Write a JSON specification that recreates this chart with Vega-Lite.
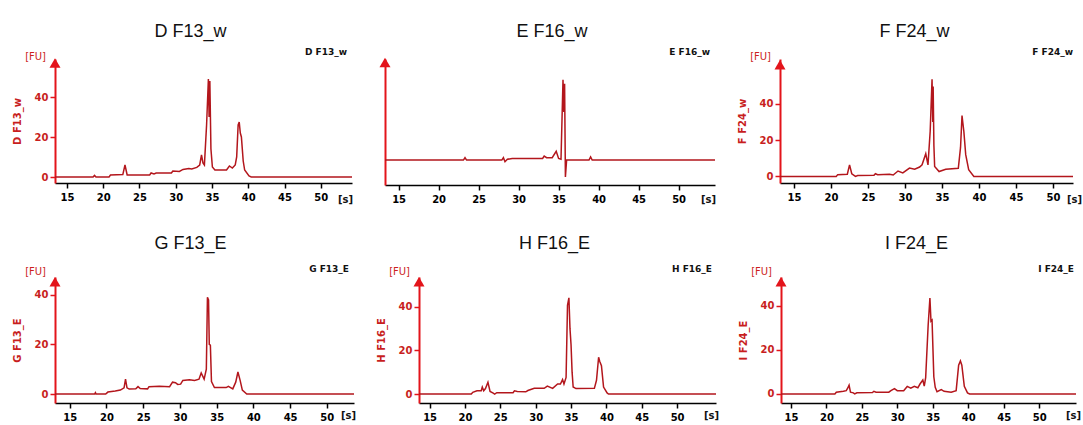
{
  "$schema": "https://vega.github.io/schema/vega-lite/v6.json",
  "padding": {"left": 12, "top": 23, "right": 0, "bottom": 0},
  "config": {
    "view": {"stroke": null},
    "font": "Liberation Sans",
    "title": {"fontSize": 18, "fontWeight": "normal", "color": "#111111", "anchor": "middle", "font": "Liberation Sans"},
    "axisX": {"domainColor": "#000000", "domainWidth": 1.5, "tickColor": "#000000", "tickWidth": 1.5, "tickSize": 5, "labelFont": "DejaVu Sans", "labelFontWeight": "bold", "labelFontSize": 10, "labelColor": "#000000", "labelPadding": 4, "grid": false, "labelFlush": false, "title": null},
    "axisY": {"domainColor": "#e3141b", "domainWidth": 2, "tickColor": "#e3141b", "tickWidth": 1.5, "tickSize": 5, "labelFont": "DejaVu Sans", "labelFontWeight": "bold", "labelFontSize": 10, "labelColor": "#c81e1e", "labelPadding": 2, "grid": false, "titleColor": "#c81e1e", "titleFont": "DejaVu Sans", "titleFontSize": 10, "titleFontWeight": "bold", "titlePadding": 12}
  },
  "datasets": {
    "D": [{"t":13.35,"fu":0},{"t":18.6,"fu":0},{"t":18.8,"fu":0.8},{"t":19,"fu":0},{"t":20.8,"fu":0},{"t":21,"fu":1},{"t":22.7,"fu":1.2},{"t":23.0,"fu":6},{"t":23.3,"fu":1},{"t":26.4,"fu":1},{"t":26.6,"fu":2},{"t":27,"fu":1.5},{"t":27.3,"fu":2},{"t":29.4,"fu":2},{"t":29.6,"fu":3},{"t":30.5,"fu":2.8},{"t":31,"fu":3.8},{"t":31.8,"fu":4.2},{"t":32.2,"fu":4},{"t":32.9,"fu":4.8},{"t":33.3,"fu":6},{"t":33.55,"fu":11},{"t":33.75,"fu":7},{"t":33.95,"fu":6},{"t":34.25,"fu":26},{"t":34.5,"fu":49},{"t":34.6,"fu":30},{"t":34.7,"fu":48},{"t":34.85,"fu":14},{"t":35.05,"fu":5},{"t":35.4,"fu":3.5},{"t":37,"fu":3.5},{"t":37.4,"fu":5.5},{"t":37.8,"fu":4.5},{"t":38.2,"fu":6},{"t":38.4,"fu":10},{"t":38.6,"fu":26},{"t":38.75,"fu":27.5},{"t":38.9,"fu":22},{"t":39.05,"fu":20},{"t":39.3,"fu":8},{"t":39.5,"fu":3.5},{"t":40.1,"fu":0.5},{"t":40.4,"fu":0},{"t":54.3,"fu":0}],
    "E": [{"t":13.3,"fu":0},{"t":23.1,"fu":0},{"t":23.3,"fu":0.3},{"t":23.5,"fu":0},{"t":27.9,"fu":0},{"t":28.1,"fu":0.3},{"t":28.3,"fu":-0.2},{"t":28.6,"fu":0.1},{"t":29.2,"fu":0.2},{"t":33,"fu":0.2},{"t":33.2,"fu":0.5},{"t":33.5,"fu":0.3},{"t":34.2,"fu":0.3},{"t":34.7,"fu":1.1},{"t":35.0,"fu":0.2},{"t":35.3,"fu":0.1},{"t":35.55,"fu":10},{"t":35.65,"fu":6},{"t":35.75,"fu":9.5},{"t":35.85,"fu":-2.1},{"t":36.0,"fu":0},{"t":38.8,"fu":0},{"t":39.0,"fu":0.4},{"t":39.2,"fu":0},{"t":54.55,"fu":0}],
    "F": [{"t":13.1,"fu":0},{"t":20.7,"fu":0},{"t":20.9,"fu":1},{"t":22.2,"fu":1.2},{"t":22.5,"fu":6.4},{"t":22.8,"fu":1.5},{"t":23.3,"fu":0},{"t":23.6,"fu":0.5},{"t":25.8,"fu":0.6},{"t":26,"fu":1.5},{"t":26.3,"fu":1},{"t":27.9,"fu":1.2},{"t":28.4,"fu":0.8},{"t":29.05,"fu":3},{"t":29.7,"fu":2},{"t":30.6,"fu":4.6},{"t":31.3,"fu":4},{"t":31.97,"fu":5.2},{"t":32.3,"fu":6.4},{"t":32.8,"fu":12.5},{"t":33.1,"fu":6.4},{"t":33.4,"fu":25},{"t":33.65,"fu":53.5},{"t":33.75,"fu":30},{"t":33.8,"fu":49.5},{"t":33.9,"fu":17},{"t":34.0,"fu":5.5},{"t":34.6,"fu":2.7},{"t":35.5,"fu":4},{"t":37.2,"fu":4.5},{"t":37.5,"fu":16},{"t":37.7,"fu":33.5},{"t":37.8,"fu":30},{"t":37.95,"fu":24.7},{"t":38.2,"fu":12},{"t":38.6,"fu":3.7},{"t":39.3,"fu":0},{"t":52.7,"fu":0}],
    "G": [{"t":13.0,"fu":0},{"t":18.4,"fu":0},{"t":18.5,"fu":0.6},{"t":18.6,"fu":0},{"t":19.9,"fu":0},{"t":20.2,"fu":0.8},{"t":21.2,"fu":1.2},{"t":21.9,"fu":1.6},{"t":22.4,"fu":2.5},{"t":22.6,"fu":6},{"t":22.8,"fu":2.5},{"t":23.1,"fu":2},{"t":24.0,"fu":2.1},{"t":24.3,"fu":3},{"t":24.6,"fu":2.2},{"t":25.6,"fu":2.1},{"t":25.8,"fu":3},{"t":27.2,"fu":3.2},{"t":28.6,"fu":3},{"t":29.0,"fu":4.8},{"t":29.4,"fu":4.6},{"t":29.7,"fu":3.9},{"t":30.1,"fu":4},{"t":30.4,"fu":5.5},{"t":31.3,"fu":5.8},{"t":32.0,"fu":5.5},{"t":32.6,"fu":6},{"t":32.9,"fu":8.5},{"t":33.3,"fu":6},{"t":33.6,"fu":10},{"t":33.75,"fu":39},{"t":33.9,"fu":38},{"t":34.0,"fu":20},{"t":34.15,"fu":19.7},{"t":34.3,"fu":5},{"t":34.7,"fu":2.6},{"t":36.3,"fu":2.6},{"t":36.6,"fu":3.1},{"t":37.2,"fu":2.1},{"t":37.6,"fu":4.8},{"t":37.9,"fu":8.9},{"t":38.2,"fu":5.5},{"t":38.5,"fu":1.6},{"t":39.1,"fu":0},{"t":53.7,"fu":0}],
    "H": [{"t":13.5,"fu":0},{"t":20.9,"fu":0},{"t":21.1,"fu":0.8},{"t":21.7,"fu":1.5},{"t":22.3,"fu":1.5},{"t":22.45,"fu":3.2},{"t":22.65,"fu":1.5},{"t":22.9,"fu":2.5},{"t":23.25,"fu":5.4},{"t":23.55,"fu":1.2},{"t":24.0,"fu":0.4},{"t":24.2,"fu":0},{"t":24.5,"fu":0.6},{"t":26.8,"fu":0.6},{"t":27.0,"fu":1.5},{"t":27.4,"fu":1.2},{"t":28.6,"fu":1},{"t":28.9,"fu":1.6},{"t":29.8,"fu":2.6},{"t":31.2,"fu":2.6},{"t":31.65,"fu":3.6},{"t":32.4,"fu":2.6},{"t":33.1,"fu":4.6},{"t":33.5,"fu":4.6},{"t":33.8,"fu":6.6},{"t":34.0,"fu":4.6},{"t":34.3,"fu":7.6},{"t":34.5,"fu":40.5},{"t":34.7,"fu":44},{"t":34.85,"fu":30},{"t":35.0,"fu":22.6},{"t":35.15,"fu":10},{"t":35.3,"fu":3.2},{"t":35.7,"fu":2.5},{"t":38.3,"fu":2.6},{"t":38.6,"fu":6.3},{"t":38.9,"fu":16.8},{"t":39.05,"fu":15},{"t":39.3,"fu":13},{"t":39.6,"fu":3.2},{"t":40.1,"fu":0.5},{"t":40.3,"fu":0},{"t":55.5,"fu":0}],
    "I": [{"t":13.6,"fu":0},{"t":21.2,"fu":0},{"t":21.4,"fu":0.8},{"t":22.4,"fu":1.2},{"t":22.8,"fu":1.5},{"t":23.0,"fu":2.6},{"t":23.2,"fu":4},{"t":23.4,"fu":0.8},{"t":23.8,"fu":0.5},{"t":24.0,"fu":0},{"t":24.3,"fu":0.5},{"t":26.5,"fu":0.6},{"t":26.7,"fu":1.2},{"t":27.0,"fu":0.8},{"t":28.8,"fu":0.8},{"t":29.1,"fu":1.5},{"t":29.6,"fu":2.4},{"t":30.0,"fu":1.5},{"t":30.9,"fu":1.5},{"t":31.4,"fu":3.4},{"t":31.9,"fu":2.6},{"t":32.4,"fu":3.5},{"t":32.9,"fu":2.8},{"t":33.2,"fu":4.5},{"t":33.6,"fu":6.3},{"t":33.8,"fu":3.6},{"t":34.0,"fu":7.4},{"t":34.35,"fu":31},{"t":34.6,"fu":43.5},{"t":34.75,"fu":33},{"t":34.9,"fu":33.5},{"t":35.15,"fu":7.8},{"t":35.35,"fu":3},{"t":35.6,"fu":1},{"t":36.2,"fu":2},{"t":36.6,"fu":1.2},{"t":37.6,"fu":0.8},{"t":38.3,"fu":1.5},{"t":38.65,"fu":13},{"t":38.9,"fu":15},{"t":39.1,"fu":13},{"t":39.45,"fu":3.5},{"t":39.9,"fu":0.5},{"t":40.2,"fu":0},{"t":55.2,"fu":0}]
  },
  "spacing": 30,
  "vconcat": [
    {
      "spacing": 19,
      "hconcat": [
        {
          "width": 297, "height": 124,
          "title": {"text": "D F13_w", "dx": -13, "offset": 7},
          "layer": [
            {"data": {"name": "D"}, "mark": {"type": "line", "color": "#b3161c", "strokeWidth": 1.5},
             "encoding": {
               "x": {"field": "t", "type": "quantitative", "scale": {"domain": [13.35, 54.3], "nice": false, "zero": false}, "axis": {"values": [15,20,25,30,35,40,45,50]}},
               "y": {"field": "fu", "type": "quantitative", "scale": {"domain": [-3, 59], "nice": false, "zero": false}, "axis": {"values": [0,20,40], "title": "D F13_w"}}}},
            {"data": {"values": [{}]}, "mark": {"type": "point", "shape": "triangle-up", "filled": true, "size": 121, "color": "#e3141b", "opacity": 1},
             "encoding": {"x": {"datum": 13.35}, "y": {"datum": 57}}},
            {"data": {"values": [{}]}, "mark": {"type": "text", "text": "[FU]", "align": "right", "baseline": "middle", "dx": -9, "dy": -2, "color": "#cc1f1f", "fontSize": 10, "font": "DejaVu Sans"},
             "encoding": {"x": {"datum": 13.35}, "y": {"datum": 59}}},
            {"data": {"values": [{}]}, "mark": {"type": "text", "text": "D F13_w", "align": "right", "baseline": "middle", "dx": -5, "dy": -7, "fontSize": 9, "fontWeight": "bold", "font": "DejaVu Sans", "color": "#111111"},
             "encoding": {"x": {"datum": 54.3}, "y": {"datum": 59}}},
            {"data": {"values": [{}]}, "mark": {"type": "text", "text": "[s]", "align": "right", "baseline": "middle", "dx": 1, "dy": 17, "fontSize": 10, "fontWeight": "bold", "font": "DejaVu Sans", "color": "#111111"},
             "encoding": {"x": {"datum": 54.3}, "y": {"datum": -3}}}
          ]
        },
        {
          "width": 330, "height": 126,
          "title": {"text": "E F16_w", "dx": 2, "offset": 7},
          "layer": [
            {"data": {"name": "E"}, "mark": {"type": "line", "color": "#b3161c", "strokeWidth": 1.5},
             "encoding": {
               "x": {"field": "t", "type": "quantitative", "scale": {"domain": [13.3, 54.55], "nice": false, "zero": false}, "axis": {"values": [15,20,25,30,35,40,45,50]}},
               "y": {"field": "fu", "type": "quantitative", "scale": {"domain": [-3.1, 12.6], "nice": false, "zero": false}, "axis": {"values": [0], "labels": false, "tickOpacity": 0, "tickSize": 11, "title": null}}}},
            {"data": {"values": [{}]}, "mark": {"type": "point", "shape": "triangle-up", "filled": true, "size": 121, "color": "#e3141b", "opacity": 1},
             "encoding": {"x": {"datum": 13.3}, "y": {"datum": 12.15}}},
            {"data": {"values": [{}]}, "mark": {"type": "text", "text": "E F16_w", "align": "right", "baseline": "middle", "dx": -5, "dy": -7, "fontSize": 9, "fontWeight": "bold", "font": "DejaVu Sans", "color": "#111111"},
             "encoding": {"x": {"datum": 54.55}, "y": {"datum": 12.6}}},
            {"data": {"values": [{}]}, "mark": {"type": "text", "text": "[s]", "align": "right", "baseline": "middle", "dx": 1, "dy": 15, "fontSize": 10, "fontWeight": "bold", "font": "DejaVu Sans", "color": "#111111"},
             "encoding": {"x": {"datum": 54.55}, "y": {"datum": -3.1}}}
          ]
        },
        {
          "width": 293, "height": 124,
          "title": {"text": "F F24_w", "dx": -12, "offset": 7},
          "layer": [
            {"data": {"name": "F"}, "mark": {"type": "line", "color": "#b3161c", "strokeWidth": 1.5},
             "encoding": {
               "x": {"field": "t", "type": "quantitative", "scale": {"domain": [13.1, 52.7], "nice": false, "zero": false}, "axis": {"values": [15,20,25,30,35,40,45,50]}},
               "y": {"field": "fu", "type": "quantitative", "scale": {"domain": [-3.6, 64.7], "nice": false, "zero": false}, "axis": {"values": [0,20,40], "title": "F F24_w"}}}},
            {"data": {"values": [{}]}, "mark": {"type": "point", "shape": "triangle-up", "filled": true, "size": 121, "color": "#e3141b", "opacity": 1},
             "encoding": {"x": {"datum": 13.1}, "y": {"datum": 61.5}}},
            {"data": {"values": [{}]}, "mark": {"type": "text", "text": "[FU]", "align": "right", "baseline": "middle", "dx": -9, "dy": -2, "color": "#cc1f1f", "fontSize": 10, "font": "DejaVu Sans"},
             "encoding": {"x": {"datum": 13.1}, "y": {"datum": 64.7}}},
            {"data": {"values": [{}]}, "mark": {"type": "text", "text": "F F24_w", "align": "right", "baseline": "middle", "dx": 0, "dy": -7, "fontSize": 9, "fontWeight": "bold", "font": "DejaVu Sans", "color": "#111111"},
             "encoding": {"x": {"datum": 52.7}, "y": {"datum": 64.7}}},
            {"data": {"values": [{}]}, "mark": {"type": "text", "text": "[s]", "align": "right", "baseline": "middle", "dx": 9, "dy": 17, "fontSize": 10, "fontWeight": "bold", "font": "DejaVu Sans", "color": "#111111"},
             "encoding": {"x": {"datum": 52.7}, "y": {"datum": -3.6}}}
          ]
        }
      ]
    },
    {
      "spacing": 19,
      "hconcat": [
        {
          "width": 299, "height": 126,
          "title": {"text": "G F13_E", "dx": -14, "offset": 12},
          "layer": [
            {"data": {"name": "G"}, "mark": {"type": "line", "color": "#b3161c", "strokeWidth": 1.5},
             "encoding": {
               "x": {"field": "t", "type": "quantitative", "scale": {"domain": [13.0, 53.7], "nice": false, "zero": false}, "axis": {"values": [15,20,25,30,35,40,45,50]}},
               "y": {"field": "fu", "type": "quantitative", "scale": {"domain": [-3.6, 47.2], "nice": false, "zero": false}, "axis": {"values": [0,10,20,30,40], "title": "G F13_E"}}}},
            {"data": {"values": [{}]}, "mark": {"type": "point", "shape": "triangle-up", "filled": true, "size": 121, "color": "#e3141b", "opacity": 1},
             "encoding": {"x": {"datum": 13.0}, "y": {"datum": 45.3}}},
            {"data": {"values": [{}]}, "mark": {"type": "text", "text": "[FU]", "align": "right", "baseline": "middle", "dx": -9, "dy": -5, "color": "#cc1f1f", "fontSize": 10, "font": "DejaVu Sans"},
             "encoding": {"x": {"datum": 13.0}, "y": {"datum": 47.2}}},
            {"data": {"values": [{}]}, "mark": {"type": "text", "text": "G F13_E", "align": "right", "baseline": "middle", "dx": -5, "dy": -8, "fontSize": 9, "fontWeight": "bold", "font": "DejaVu Sans", "color": "#111111"},
             "encoding": {"x": {"datum": 53.7}, "y": {"datum": 47.2}}},
            {"data": {"values": [{}]}, "mark": {"type": "text", "text": "[s]", "align": "right", "baseline": "middle", "dx": 2, "dy": 13, "fontSize": 10, "fontWeight": "bold", "font": "DejaVu Sans", "color": "#111111"},
             "encoding": {"x": {"datum": 53.7}, "y": {"datum": -3.6}}}
          ]
        },
        {
          "width": 297, "height": 126,
          "title": {"text": "H F16_E", "dx": -13, "offset": 12},
          "layer": [
            {"data": {"name": "H"}, "mark": {"type": "line", "color": "#b3161c", "strokeWidth": 1.5},
             "encoding": {
               "x": {"field": "t", "type": "quantitative", "scale": {"domain": [13.5, 55.5], "nice": false, "zero": false}, "axis": {"values": [15,20,25,30,35,40,45,50]}},
               "y": {"field": "fu", "type": "quantitative", "scale": {"domain": [-4.1, 53.5], "nice": false, "zero": false}, "axis": {"values": [0,20,40], "title": "H F16_E"}}}},
            {"data": {"values": [{}]}, "mark": {"type": "point", "shape": "triangle-up", "filled": true, "size": 121, "color": "#e3141b", "opacity": 1},
             "encoding": {"x": {"datum": 13.5}, "y": {"datum": 51.3}}},
            {"data": {"values": [{}]}, "mark": {"type": "text", "text": "[FU]", "align": "right", "baseline": "middle", "dx": -9, "dy": -5, "color": "#cc1f1f", "fontSize": 10, "font": "DejaVu Sans"},
             "encoding": {"x": {"datum": 13.5}, "y": {"datum": 53.5}}},
            {"data": {"values": [{}]}, "mark": {"type": "text", "text": "H F16_E", "align": "right", "baseline": "middle", "dx": -4, "dy": -8, "fontSize": 9, "fontWeight": "bold", "font": "DejaVu Sans", "color": "#111111"},
             "encoding": {"x": {"datum": 55.5}, "y": {"datum": 53.5}}},
            {"data": {"values": [{}]}, "mark": {"type": "text", "text": "[s]", "align": "right", "baseline": "middle", "dx": 3, "dy": 13, "fontSize": 10, "fontWeight": "bold", "font": "DejaVu Sans", "color": "#111111"},
             "encoding": {"x": {"datum": 55.5}, "y": {"datum": -4.1}}}
          ]
        },
        {
          "width": 295, "height": 126,
          "title": {"text": "I F24_E", "dx": -12, "offset": 12},
          "layer": [
            {"data": {"name": "I"}, "mark": {"type": "line", "color": "#b3161c", "strokeWidth": 1.5},
             "encoding": {
               "x": {"field": "t", "type": "quantitative", "scale": {"domain": [13.6, 55.2], "nice": false, "zero": false}, "axis": {"values": [15,20,25,30,35,40,45,50]}},
               "y": {"field": "fu", "type": "quantitative", "scale": {"domain": [-4.1, 53], "nice": false, "zero": false}, "axis": {"values": [0,20,40], "title": "I F24_E"}}}},
            {"data": {"values": [{}]}, "mark": {"type": "point", "shape": "triangle-up", "filled": true, "size": 121, "color": "#e3141b", "opacity": 1},
             "encoding": {"x": {"datum": 13.6}, "y": {"datum": 50.8}}},
            {"data": {"values": [{}]}, "mark": {"type": "text", "text": "[FU]", "align": "right", "baseline": "middle", "dx": -9, "dy": -5, "color": "#cc1f1f", "fontSize": 10, "font": "DejaVu Sans"},
             "encoding": {"x": {"datum": 13.6}, "y": {"datum": 53}}},
            {"data": {"values": [{}]}, "mark": {"type": "text", "text": "I F24_E", "align": "right", "baseline": "middle", "dx": -2, "dy": -8, "fontSize": 9, "fontWeight": "bold", "font": "DejaVu Sans", "color": "#111111"},
             "encoding": {"x": {"datum": 55.2}, "y": {"datum": 53}}},
            {"data": {"values": [{}]}, "mark": {"type": "text", "text": "[s]", "align": "right", "baseline": "middle", "dx": 5, "dy": 13, "fontSize": 10, "fontWeight": "bold", "font": "DejaVu Sans", "color": "#111111"},
             "encoding": {"x": {"datum": 55.2}, "y": {"datum": -4.1}}}
          ]
        }
      ]
    }
  ]
}
